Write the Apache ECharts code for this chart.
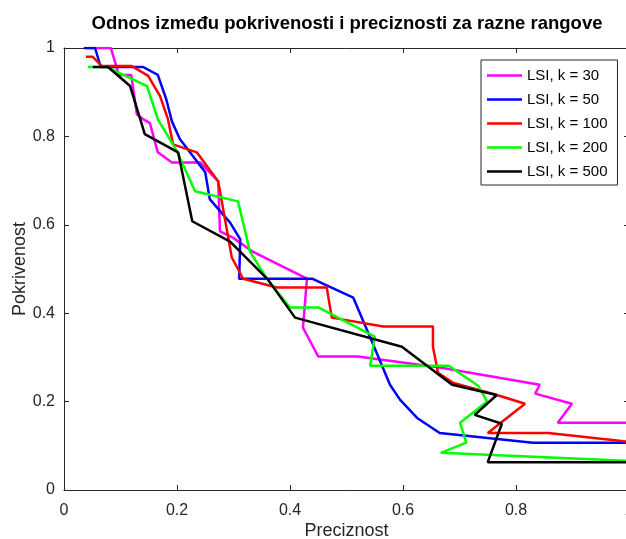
<!DOCTYPE html>
<html><head><meta charset="utf-8">
<script src="https://cdn.jsdelivr.net/npm/echarts@6/dist/echarts.min.js"></script>
<style>html,body{margin:0;padding:0;background:#fff}#c{width:626px;height:539px}</style>
</head><body><div id="c"></div>
<script>
var seriesNames = ['LSI, k = 30','LSI, k = 50','LSI, k = 100','LSI, k = 200','LSI, k = 500'];
var seriesColors = ['#ff00ff','#0000ff','#ff0000','#00ff00','#000000'];
var xTicks = [0,0.2,0.4,0.6,0.8,1];
var yTicks = [0,0.2,0.4,0.6,0.8,1];

var k30 = [[0.037,1.0],[0.083,1.0],[0.097,0.939],[0.119,0.939],[0.129,0.850],[0.140,0.839],[0.152,0.830],[0.166,0.764],[0.191,0.741],[0.241,0.741],[0.273,0.698],[0.276,0.585],[0.299,0.571],[0.333,0.540],[0.430,0.478],[0.423,0.367],[0.450,0.302],[0.520,0.302],[0.665,0.277],[0.842,0.238],[0.834,0.218],[0.899,0.195],[0.874,0.152],[1.0,0.152]];
var k50 = [[0.035,1.0],[0.055,1.0],[0.065,0.957],[0.140,0.957],[0.166,0.939],[0.181,0.884],[0.191,0.834],[0.205,0.794],[0.250,0.719],[0.258,0.658],[0.294,0.605],[0.312,0.567],[0.310,0.478],[0.439,0.478],[0.512,0.435],[0.542,0.345],[0.577,0.238],[0.595,0.204],[0.625,0.163],[0.665,0.129],[0.830,0.107],[1.0,0.107]];
var k100 = [[0.039,0.980],[0.051,0.980],[0.067,0.959],[0.120,0.959],[0.149,0.937],[0.170,0.891],[0.184,0.839],[0.193,0.782],[0.235,0.764],[0.273,0.698],[0.297,0.526],[0.317,0.478],[0.377,0.458],[0.465,0.458],[0.474,0.390],[0.565,0.370],[0.653,0.370],[0.653,0.324],[0.662,0.265],[0.688,0.243],[0.766,0.215],[0.816,0.195],[0.750,0.129],[0.857,0.129],[1.0,0.109]];
var k200 = [[0.042,0.957],[0.076,0.957],[0.147,0.914],[0.166,0.839],[0.200,0.766],[0.232,0.676],[0.308,0.653],[0.329,0.540],[0.359,0.478],[0.400,0.413],[0.450,0.413],[0.550,0.347],[0.542,0.281],[0.681,0.281],[0.733,0.236],[0.749,0.200],[0.701,0.152],[0.712,0.107],[0.667,0.084],[1.0,0.066]];
var k500 = [[0.051,0.957],[0.078,0.957],[0.117,0.914],[0.143,0.805],[0.202,0.764],[0.227,0.608],[0.294,0.562],[0.361,0.476],[0.409,0.390],[0.598,0.324],[0.687,0.238],[0.766,0.215],[0.727,0.170],[0.775,0.150],[0.750,0.063],[1.0,0.063]];
var allData = [k30,k50,k100,k200,k500];

var font = 'Liberation Sans, Arial, Helvetica, sans-serif';
var axisColor = '#262626';
var chart = echarts.init(document.getElementById('c'));
var series = allData.map(function(d,i){
  return {name: seriesNames[i], type:'line', data:d, showSymbol:false, symbol:'none',
    lineStyle:{color:seriesColors[i], width:2.5}, itemStyle:{color:seriesColors[i]}, z:2+i, animation:false};
});
chart.setOption({
  animation:false,
  title:{text:'Odnos između pokrivenosti i preciznosti za razne rangove', left:342, textAlign:'center', top:9,
    textStyle:{fontFamily:font, fontSize:18.5, fontWeight:'bold', color:'#000'}},
  grid:{left:64, top:48, width:565, height:442, containLabel:false, outerBoundsMode:'none'},
  legend:{orient:'vertical', left:481, top:60, itemWidth:35, itemHeight:2.5, itemGap:9,
    padding:[8,10,6,6], borderColor:axisColor, borderWidth:1, backgroundColor:'#fff',
    icon:'rect', data:seriesNames,
    textStyle:{fontFamily:font, fontSize:15, color:'#000'}},
  xAxis:[{type:'value', min:0, max:1, interval:0.2, name:'Preciznost', nameLocation:'middle', nameGap:32,
    nameMoveOverlap:false,
    nameTextStyle:{fontFamily:font, fontSize:18, color:'#262626'},
    axisLine:{show:true, onZero:false, lineStyle:{color:axisColor, width:1}},
    axisTick:{show:true, inside:true, length:5, lineStyle:{color:axisColor}},
    axisLabel:{fontFamily:font, fontSize:16, color:'#262626', margin:13, formatter:function(v){return xTicks.indexOf(v)>=0?String(v):'';}},
    splitLine:{show:false}},
   {type:'value', min:0, max:1, interval:0.2, position:'top',
    axisLine:{show:true, onZero:false, lineStyle:{color:axisColor, width:1}},
    axisTick:{show:true, inside:true, length:5, lineStyle:{color:axisColor}},
    axisLabel:{show:false}, splitLine:{show:false}}],
  yAxis:[{type:'value', min:0, max:1, interval:0.2, name:'Pokrivenost', nameLocation:'middle', nameGap:35,
    nameMoveOverlap:false,
    nameTextStyle:{fontFamily:font, fontSize:18, color:'#262626'},
    axisLine:{show:true, onZero:false, lineStyle:{color:axisColor, width:1}},
    axisTick:{show:true, inside:true, length:5, lineStyle:{color:axisColor}},
    axisLabel:{fontFamily:font, fontSize:16, color:'#262626', margin:9, formatter:function(v){return yTicks.indexOf(v)>=0?String(v):'';}},
    splitLine:{show:false}},
   {type:'value', min:0, max:1, interval:0.2, position:'right',
    axisLine:{show:true, onZero:false, lineStyle:{color:axisColor, width:1}},
    axisTick:{show:true, inside:true, length:5, lineStyle:{color:axisColor}},
    axisLabel:{show:false}, splitLine:{show:false}}],
  series: series
});
</script></body></html>
